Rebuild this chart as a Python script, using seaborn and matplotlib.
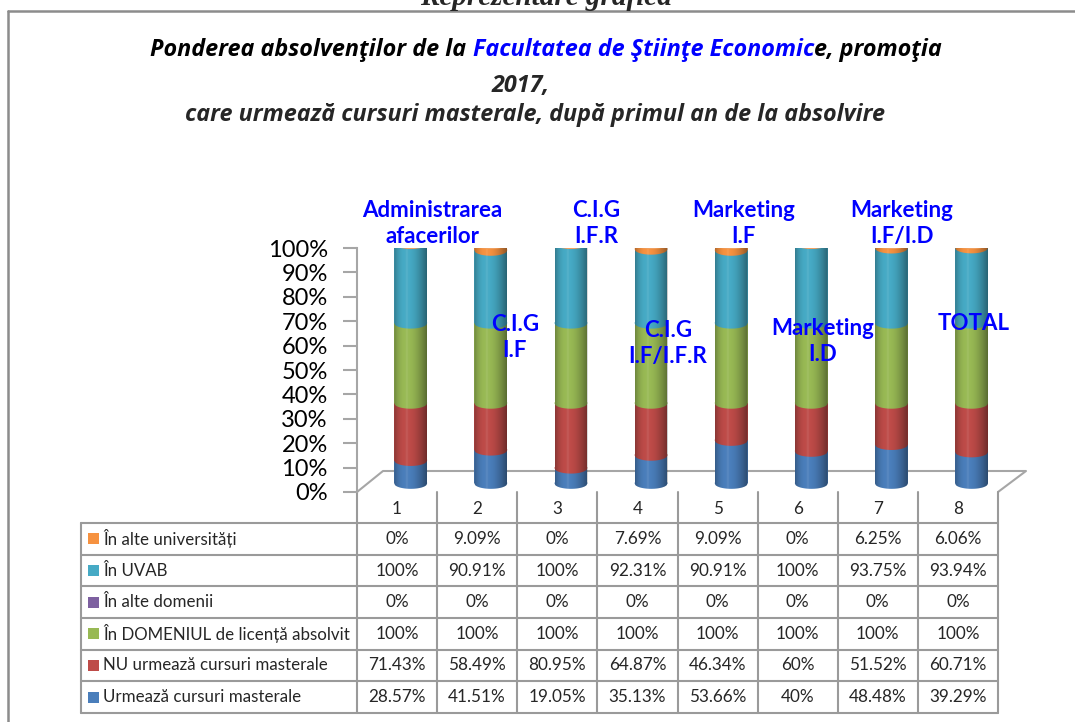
import numpy as np
import matplotlib
matplotlib.use("Agg")
import matplotlib.pyplot as plt
import seaborn as sns
from matplotlib.patches import Polygon, Ellipse, Rectangle
from matplotlib.lines import Line2D

# ---------------- data ----------------
columns = ["1", "2", "3", "4", "5", "6", "7", "8"]
series_names = ["Urmează cursuri masterale",
                "NU urmează cursuri masterale",
                "În DOMENIUL de licență absolvit",
                "În alte domenii",
                "În UVAB",
                "În alte universități"]
urmeaza = [28.57, 41.51, 19.05, 35.13, 53.66, 40, 48.48, 39.29]
nu_urmeaza = [71.43, 58.49, 80.95, 64.87, 46.34, 60, 51.52, 60.71]
in_domeniu = [100, 100, 100, 100, 100, 100, 100, 100]
alte_domenii = [0, 0, 0, 0, 0, 0, 0, 0]
uvab = [100, 90.91, 100, 92.31, 90.91, 100, 93.75, 93.94]
alte_univ = [0, 9.09, 0, 7.69, 9.09, 0, 6.25, 6.06]
series_values = [urmeaza, nu_urmeaza, in_domeniu, alte_domenii, uvab, alte_univ]
series_colors = ["#4A7EBB", "#BE4B48", "#98B954", "#7D60A0", "#46AAC5", "#F69240"]
bar_labels = ["Administrarea\nafacerilor", "C.I.G\nI.F", "C.I.G\nI.F.R",
              "C.I.G\nI.F/I.F.R", "Marketing\nI.F", "Marketing\nI.D",
              "Marketing\nI.F/I.D", "TOTAL"]
y_ticks = [0, 10, 20, 30, 40, 50, 60, 70, 80, 90, 100]
title_line1 = [("Ponderea absolvenţilor de la ", "black"),
               ("Facultatea de Ştiinţe Economic", "#0000FF"),
               ("e, promoţia", "black")]
title_line2 = "2017,"
title_line3 = "care urmează cursuri masterale, după primul an de la absolvire"
top_heading = "Reprezentare grafică"

# ---------------- style ----------------
sns.set_style("white")
plt.rcParams["font.family"] = ["Lato", "DejaVu Sans"]

W, H = 1075, 722
fig = plt.figure(figsize=(W / 100, H / 100), dpi=100)
fig.patch.set_facecolor("white")

def fx(px):
    return px / W

def fy(py):
    return 1 - py / H

bg = fig.add_axes([0, 0, 1, 1], zorder=0)
bg.set_xlim(0, W)
bg.set_ylim(H, 0)
bg.axis("off")

X0, X1, Y0, Y100 = 357, 998, 492, 248
ax = fig.add_axes([fx(X0), fy(Y0), (X1 - X0) / W, (Y0 - Y100) / H], zorder=2)
ax.set_facecolor("none")

ncol = len(columns)
vals = np.array(series_values, dtype=float)
totals = vals.sum(axis=0)
fracs = vals / totals

base = 0.035
scale = 0.985
xpos = np.arange(ncol) + 0.17
bw = 0.41
ry = 0.022

cum = np.zeros(ncol)
segments = [[] for _ in range(ncol)]
for s in range(len(series_names)):
    before = len(ax.patches)
    sns.barplot(x=xpos, y=fracs[s] * scale, bottom=base + cum * scale,
                native_scale=True, width=bw, color=series_colors[s],
                saturation=1, errorbar=None, linewidth=0, ax=ax)
    for i, p in enumerate(ax.patches[before:]):
        segments[i].append((p.get_x(), p.get_y(), p.get_width(), p.get_height(), series_colors[s]))
    cum += fracs[s]

def half_ellipse(xl, w, y, n=40):
    xs = np.linspace(xl, xl + w, n)
    t = (xs - (xl + w / 2)) / (w / 2)
    ys = y - ry * np.sqrt(np.clip(1 - t ** 2, 0, 1))
    return np.column_stack([xs, ys])

N = 120
tt = np.linspace(0, 1, N)
img = np.zeros((1, N, 4))
for k, t in enumerate(tt):
    if t < 0.33:
        a = 0.28 * (1 - t / 0.33) ** 2
        img[0, k] = [0, 0, 0, a]
    elif t < 0.45:
        a = 0.10 * (1 - abs(t - 0.39) / 0.06)
        img[0, k] = [1, 1, 1, max(a, 0)]
    else:
        a = 0.42 * ((t - 0.45) / 0.55) ** 1.6
        img[0, k] = [0, 0, 0, a]

for i in range(ncol):
    segs = segments[i]
    xl, _, w, _, _ = segs[0]
    for (sx, sy, sw, sh, c) in segs:
        if sh > 0:
            poly = np.vstack([half_ellipse(sx, sw, sy), [[sx + sw, sy + 0.004], [sx, sy + 0.004]]])
            ax.add_patch(Polygon(poly, closed=True, facecolor=c, edgecolor="none",
                                 antialiased=True, zorder=2))
    ybot = segs[0][1]
    ytop = segs[-1][1] + segs[-1][3]
    body = np.vstack([half_ellipse(xl, w, ybot), [[xl + w, ytop], [xl, ytop]]])
    clip = Polygon(body, closed=True, facecolor="none", edgecolor="none", transform=ax.transData)
    ax.add_patch(clip)
    im = ax.imshow(img, extent=[xl, xl + w, ybot - ry, ytop], aspect="auto",
                   interpolation="bilinear", zorder=3)
    im.set_clip_path(clip)
    ax.add_patch(Ellipse((xl + w / 2, ytop), w, 2 * ry, facecolor="#D9782E",
                         edgecolor="#F0A060", linewidth=0.8, zorder=4))

ax.set_xlim(-0.5, ncol - 0.5)
ax.set_ylim(0, 1)
ax.set_xticks([])
ax.set_xlabel("")
ax.set_ylabel("")
ax.set_yticks([v / 100 for v in y_ticks])
ax.set_yticklabels([f"{v}%" for v in y_ticks])
for sp in ["top", "right", "bottom"]:
    ax.spines[sp].set_visible(False)
ax.spines["left"].set_color("#A6A6A6")
ax.spines["left"].set_linewidth(1.5)
ax.tick_params(axis="y", left=True, length=10, width=1.5, color="#A6A6A6",
               labelsize=17, pad=11, labelcolor="black")

label_pos = [(0.44, 1.10), (1.47, 0.635), (2.48, 1.10), (3.38, 0.61),
             (4.32, 1.10), (5.31, 0.615), (6.30, 1.10), (7.19, 0.69)]
for txt, (lx, ly) in zip(bar_labels, label_pos):
    ax.text(lx, ly, txt, ha="center", va="center", color="#0000FF",
            fontsize=16, fontweight="bold", linespacing=1.3, zorder=6, clip_on=False)

# ---------------- frame & floor ----------------
grey = "#8C8C8C"
bg.add_line(Line2D([8, 8], [11, H], color=grey, lw=1.8))
bg.add_line(Line2D([8, W], [11, 11], color=grey, lw=1.8))
bg.text(546, 5, top_heading, ha="center", va="baseline", fontsize=21,
        fontfamily="Liberation Serif", fontweight="bold", fontstyle="italic")

fl = "#A6A6A6"
bg.add_line(Line2D([X0, 383, 1026, X1], [Y0, 471, 471, Y0], color=fl, lw=1.5))

# ---------------- title ----------------
fig.canvas.draw()
rend = fig.canvas.get_renderer()

def text_w(s, **kw):
    t = bg.text(0, 0, s + "|", **kw)
    w1 = t.get_window_extent(rend).width
    t.remove()
    t = bg.text(0, 0, "|", **kw)
    w2 = t.get_window_extent(rend).width
    t.remove()
    return w1 - w2

tkw = dict(fontsize=16.8, fontweight="bold", fontstyle="italic",
           fontfamily=["Open Sans", "DejaVu Sans"])
full = "".join(p for p, _ in title_line1)
total_w = text_w(full, **tkw)
xs = 546 - total_w / 2
prefix = ""
for part, col in title_line1:
    off = text_w(prefix, **tkw) if prefix else 0
    bg.text(xs + off, 50, part, ha="left", va="center", color=col, **tkw)
    prefix += part
bg.text(521, 86, title_line2, ha="center", va="center", **tkw)
bg.text(535, 115, title_line3, ha="center", va="center", **tkw)

# ---------------- data table ----------------
tl = "#9A9A9A"
LX = 81
col_edges = np.linspace(X0, X1, ncol + 1)
col_cent = (col_edges[:-1] + col_edges[1:]) / 2
HDR_TOP, HDR_BOT, TB = Y0, 523, 713
nrows = len(series_names)
row_edges = np.linspace(HDR_BOT, TB, nrows + 1)
row_cent = (row_edges[:-1] + row_edges[1:]) / 2

for k, xe in enumerate(col_edges):
    bg.add_line(Line2D([xe, xe], [HDR_TOP, TB], color=tl, lw=1.5))
bg.add_line(Line2D([LX, LX], [HDR_BOT, TB], color=tl, lw=1.5))
for ye in row_edges:
    bg.add_line(Line2D([LX, X1], [ye, ye], color=tl, lw=1.5))

for j, c in enumerate(columns):
    bg.text(col_cent[j], (HDR_TOP + HDR_BOT) / 2 + 1, c, ha="center", va="center", fontsize=12.3)

def fmt(v):
    return f"{int(round(v))}%" if abs(v - round(v)) < 1e-9 else f"{v:.2f}%"

order = list(range(nrows))[::-1]
for r, s in enumerate(order):
    yc = row_cent[r]
    bg.add_patch(Rectangle((88, yc - 5.5), 11, 11, facecolor=series_colors[s], edgecolor="none"))
    bg.text(103, yc, series_names[s], ha="left", va="center", fontsize=12.2)
    for j in range(ncol):
        bg.text(col_cent[j], yc, fmt(series_values[s][j]), ha="center", va="center", fontsize=12.3)

fig.savefig("out.png", dpi=100, facecolor="white")
